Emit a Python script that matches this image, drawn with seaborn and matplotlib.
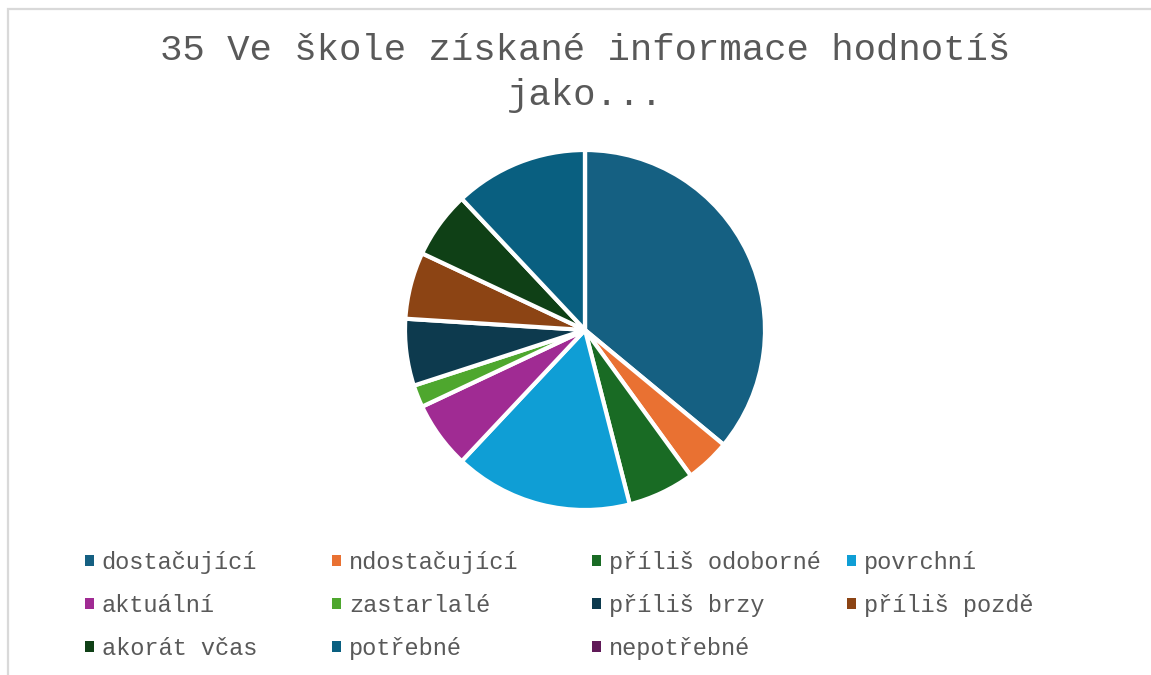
import matplotlib
matplotlib.use("Agg")
import matplotlib.pyplot as plt
from matplotlib.patches import Patch, Rectangle
import seaborn as sns

# Survey answers (number of respondents per option)
categories = [
    "dostačující", "ndostačující", "příliš odoborné", "povrchní",
    "aktuální", "zastarlalé", "příliš brzy", "příliš pozdě",
    "akorát včas", "potřebné", "nepotřebné",
]
counts = [18, 2, 3, 8, 3, 1, 3, 3, 3, 6, 0]
colors = [
    "#156082", "#E97132", "#196B24", "#0F9ED5", "#A02B93", "#4EA72E",
    "#0D3A4E", "#8C4414", "#0F4016", "#095F80", "#601A58",
]
title = "35 Ve škole získané informace hodnotíš\njako..."

sns.set_theme(style="white")
plt.rcParams["font.family"] = ["Liberation Mono", "DejaVu Sans Mono"]
text_color = "#595959"

W, H = 1151, 675
fig = plt.figure(figsize=(W / 100, H / 100), dpi=100)
fig.patch.set_facecolor("white")

# chart frame (top and left edges visible)
frame = Rectangle((8 / W, -0.2), 1.5, 1.2 - 9 / H, transform=fig.transFigure,
                  fill=False, edgecolor="#D9D9D9", linewidth=1.6, clip_on=False)
fig.add_artist(frame)

# pie
cx, cy, r = 585, 330, 180
ax = fig.add_axes([(cx - r) / W, (H - cy - r) / H, 2 * r / W, 2 * r / H])
ax.pie(counts, colors=colors, startangle=90, counterclock=False, radius=1,
       wedgeprops=dict(edgecolor="white", linewidth=3, joinstyle="miter"))
ax.set_xlim(-1, 1)
ax.set_ylim(-1, 1)
ax.set_axis_off()

fig.text(cx / W, 1 - 73 / H, title, ha="center", va="center", fontsize=26.9,
         color=text_color, linespacing=1.38)

# legend laid out in rows of four
col_x = [85, 332, 592, 847]
row_y = [562, 605, 647]
for c in range(4):
    idx = [i for i in range(c, len(categories), 4)]
    handles = [Patch(facecolor=colors[i], edgecolor="none") for i in idx]
    labels = [categories[i] for i in idx]
    fig.legend(handles, labels, loc="upper left",
               bbox_to_anchor=(col_x[c] / W, 1 - (row_y[0] - 11) / H),
               frameon=False, fontsize=17, labelcolor=text_color,
               handlelength=0.36, handleheight=0.36, handletextpad=0.35,
               labelspacing=0.84, borderaxespad=0, borderpad=0)

fig.savefig("out.png", dpi=100, facecolor="white")
